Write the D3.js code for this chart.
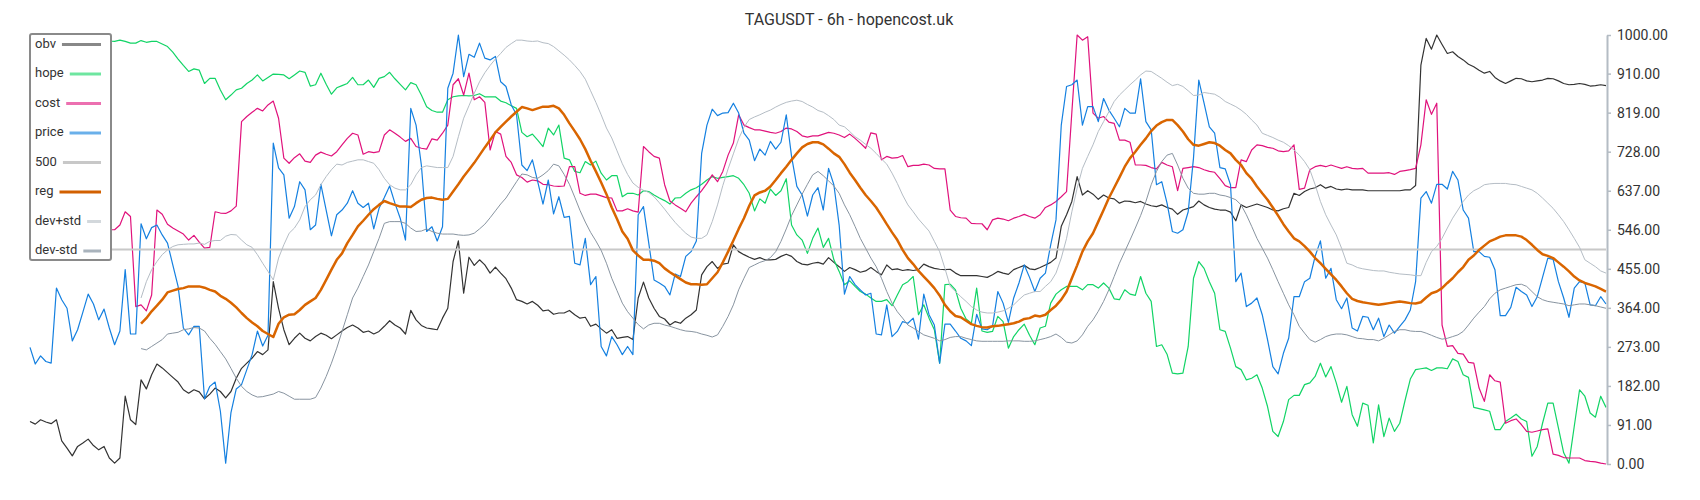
<!DOCTYPE html>
<html><head><meta charset="utf-8">
<script src="https://cdn.jsdelivr.net/npm/d3@7/dist/d3.min.js"></script>
<style>
body{margin:0;background:#fff;}
svg{display:block;font-family:Roboto,"Noto Sans",sans-serif;}
</style></head><body>
<svg id="chart" width="1700" height="500"></svg>
<script>
const title = "TAGUSDT - 6h - hopencost.uk";
const yTicks = [0,91,182,273,364,455,546,637,728,819,910,1000];
const level500 = 500;

const price = [272,233,252,239,235,410,383,363,287,313,354,396,373,336,361,317,278,310,453,303,303,560,525,551,557,534,515,464,414,317,
301,321,321,152,181,191,123,2,120,175,185,220,255,310,275,300,748,690,674,573,600,658,639,546,557,652,592,532,581,592,
608,637,608,598,608,548,596,621,648,608,573,522,829,790,697,542,553,520,553,876,911,1000,903,955,948,981,946,942,950,891,
880,837,814,697,684,709,658,606,662,583,623,575,577,468,464,526,418,437,274,252,297,278,255,274,255,581,600,515,429,422,
414,394,443,437,484,495,520,724,790,827,812,818,819,841,818,771,755,707,734,720,752,734,750,814,717,647,627,578,627,644,
592,689,651,557,396,437,418,406,394,398,303,301,371,297,309,332,328,340,291,396,348,324,235,326,326,310,293,287,276,349,
315,313,321,402,375,330,387,422,464,435,402,433,445,511,569,790,880,884,895,790,833,833,798,852,825,806,786,829,818,818,
898,798,779,651,658,608,542,538,546,588,713,895,841,786,771,691,688,651,425,445,367,375,387,348,290,227,210,258,293,390,
390,425,433,484,520,433,456,383,362,387,317,310,344,342,313,340,297,324,305,321,336,359,425,620,635,608,652,652,641,682,
662,592,573,495,495,484,482,453,346,346,365,412,402,394,367,390,435,480,477,425,387,342,410,425,422,371,369,390,373];

const obv = [99,93,103,98,94,103,54,37,19,41,49,58,43,33,41,14,2,14,158,103,92,196,175,208,233,224,213,202,191,173,
165,173,168,152,163,177,169,154,169,200,223,235,247,262,255,266,425,363,313,278,293,305,293,287,297,305,300,292,301,310,
318,324,317,307,310,303,309,321,334,324,317,303,358,336,323,317,315,313,340,363,472,520,398,482,463,476,464,445,459,445,
432,410,383,379,373,379,370,357,359,349,352,352,358,348,340,342,321,326,315,305,313,293,295,297,290,387,424,387,363,344,
338,324,332,328,340,348,359,441,460,472,456,466,468,511,495,488,482,477,481,476,476,477,484,489,484,472,466,464,468,470,
466,481,470,460,449,458,453,447,450,458,449,441,464,453,455,451,453,451,453,466,460,456,454,453,454,445,439,439,439,439,
437,435,441,449,445,442,453,458,463,455,453,458,464,470,480,554,581,612,670,627,637,629,617,627,620,618,608,613,612,609,
612,606,602,600,604,598,594,582,592,596,600,613,604,598,594,592,592,587,567,604,598,602,606,602,598,592,590,595,598,631,
626,635,641,644,651,643,647,641,639,641,639,639,639,637,637,637,637,637,637,637,639,639,649,930,992,967,1000,978,957,961,
950,942,932,926,918,911,915,901,893,887,893,899,898,893,891,893,895,899,898,893,887,884,885,887,885,881,882,884,882];

const hope = [962,968,975,970,978,982,980,986,990,993,996,1000,995,990,988,986,985,988,985,981,981,987,983,985,985,979,973,960,944,929,
915,921,918,887,899,899,872,849,860,872,876,887,895,907,893,901,909,908,907,898,907,916,913,881,884,911,885,862,877,882,
887,901,884,884,895,878,899,903,913,898,885,872,889,884,860,833,824,820,820,849,856,858,859,858,859,863,856,856,856,846,
842,835,829,773,763,769,755,740,783,767,790,713,709,682,679,705,697,706,678,662,672,672,623,631,631,627,637,635,627,620,
614,606,620,621,631,639,644,652,662,670,666,668,670,672,666,651,631,590,618,608,641,626,637,665,557,534,522,491,526,550,
505,526,476,449,418,427,414,402,396,387,379,379,383,369,394,418,425,437,348,371,340,313,235,418,419,406,363,338,328,410,
310,307,309,344,332,270,297,313,326,300,278,317,321,375,396,406,414,414,414,406,418,418,410,422,410,385,383,406,396,393,
437,398,379,274,278,256,212,210,212,274,433,472,456,425,398,313,309,270,227,220,196,200,208,177,134,76,64,99,150,160,
160,185,189,204,235,203,227,189,144,181,115,88,142,137,49,138,64,107,76,95,148,198,220,222,224,218,224,224,222,245,
239,208,202,132,129,126,123,80,80,99,107,116,105,99,18,41,95,142,142,84,26,2,88,173,158,119,109,158,132];

const cost = [560,566,572,578,583,580,574,569,565,561,556,553,550,548,547,546,546,557,588,577,367,371,357,394,592,582,559,550,543,536,
522,533,517,503,505,588,585,584,590,601,798,810,820,829,823,837,846,806,713,701,714,723,706,703,720,727,722,718,728,744,
759,771,767,722,728,726,728,767,779,771,762,752,759,740,736,734,758,755,771,790,884,898,860,911,849,856,843,732,775,769,
717,703,674,668,657,662,660,652,651,648,647,648,693,693,631,626,629,629,625,621,620,590,590,595,590,587,740,728,717,713,
651,613,604,596,588,608,623,637,654,674,658,682,720,748,814,790,784,779,779,776,773,771,775,783,781,775,765,762,765,765,
769,773,771,767,761,769,759,748,736,772,769,709,717,713,714,719,693,696,696,699,697,689,688,688,592,577,574,573,561,560,
560,546,569,573,571,567,573,577,582,577,573,581,598,604,612,623,635,820,1000,988,996,818,806,810,797,794,755,755,750,697,
697,696,691,688,703,697,693,637,689,691,693,691,686,682,680,665,649,644,644,709,705,732,744,742,738,736,730,728,730,744,
640,643,686,693,696,693,697,693,689,693,689,688,689,678,678,678,678,679,675,682,684,686,689,744,849,815,841,324,274,276,
258,256,237,235,177,146,208,194,191,95,101,105,92,76,74,77,80,82,23,20,15,14,14,14,8,6,5,2,0];

const reg = [null,null,null,null,null,null,null,null,null,null,null,null,null,null,null,null,null,null,null,null,null,327,340,356,369,383,400,404,408,410,
414,414,414,411,406,402,392,385,376,365,352,340,330,321,310,303,296,327,342,348,349,359,371,379,387,406,429,453,476,491,
515,534,554,567,581,594,604,613,608,604,600,600,599,608,616,620,621,618,616,618,635,652,670,686,702,720,738,755,773,786,
798,810,821,832,829,825,829,833,833,835,829,814,794,776,757,734,707,682,656,629,598,571,542,525,498,486,476,476,474,468,
456,447,439,431,423,419,419,418,419,433,447,470,495,521,548,573,602,626,633,637,647,662,678,693,709,724,738,746,750,750,
745,735,724,716,699,679,662,644,627,613,598,579,559,540,522,499,480,466,450,437,424,410,393,371,356,345,342,334,326,322,
319,318,321,322,324,326,328,332,338,340,346,344,348,359,369,383,402,433,463,495,519,538,565,592,620,644,668,693,713,728,
744,759,776,789,797,802,802,790,775,757,744,742,746,750,748,742,732,724,709,697,678,665,647,631,616,598,579,559,542,526,
519,508,495,480,468,455,442,429,414,398,385,380,377,375,373,371,373,375,377,379,377,375,374,377,388,398,402,410,422,433,
447,459,476,486,499,509,519,524,530,533,533,533,530,522,511,499,489,485,480,470,460,449,437,428,422,418,414,408,402];

const devPlus = [null,null,null,null,null,null,null,null,null,null,null,null,null,null,null,null,null,null,null,null,null,387,425,453,472,488,499,507,511,512,
513,513,515,512,519,521,521,531,535,534,522,511,505,488,468,449,429,480,511,538,550,569,600,616,627,651,670,686,699,697,
703,706,709,709,705,701,686,666,651,643,639,639,651,674,691,695,693,691,691,691,717,763,806,835,864,891,912,929,944,957,
971,980,988,988,986,985,986,982,980,973,963,953,942,929,915,897,870,843,814,783,760,730,700,675,655,645,638,633,623,609,
594,578,563,550,538,529,526,526,534,565,604,649,688,723,758,785,803,809,814,820,825,832,838,843,846,848,845,838,832,824,
820,812,803,790,786,775,763,755,745,736,724,711,699,678,654,627,604,588,571,557,543,519,495,456,414,402,390,379,367,359,
354,352,352,354,357,363,371,383,394,398,402,402,414,425,445,480,526,588,643,689,717,744,775,798,821,845,860,872,884,895,
907,916,915,907,899,890,882,885,880,870,859,860,866,864,862,855,845,839,833,825,815,802,790,771,766,761,755,750,742,732,
720,705,686,651,612,581,557,534,503,468,464,458,455,453,451,450,450,447,445,443,442,441,439,439,470,495,507,526,550,573,
592,612,627,637,643,651,653,654,654,654,652,651,647,643,639,631,620,608,596,581,565,546,526,505,476,468,460,450,445];

const devMinus = [null,null,null,null,null,null,null,null,null,null,null,null,null,null,null,null,null,null,null,null,null,269,266,274,282,290,303,305,307,313,
315,318,317,310,293,279,262,245,223,200,181,169,161,156,157,160,163,169,165,158,151,151,151,151,155,177,204,235,270,309,
348,387,410,437,464,495,526,561,565,565,565,561,550,542,543,548,542,538,536,536,536,534,533,534,538,548,559,574,590,606,
620,639,658,676,674,668,666,674,684,699,695,675,652,622,591,564,540,520,498,468,433,404,375,355,340,325,315,324,328,328,
324,321,317,313,310,309,307,303,300,296,301,321,344,371,406,433,458,464,470,474,481,495,519,548,579,604,629,652,674,682,
672,660,648,631,604,581,554,526,503,480,460,433,402,375,355,340,324,317,309,301,297,293,287,290,295,297,297,293,290,287,
286,286,286,286,286,287,287,287,286,286,287,290,293,297,303,295,284,282,287,301,321,336,356,379,406,437,468,495,522,550,
579,612,651,682,705,720,724,697,666,643,631,629,629,631,631,627,625,621,616,604,581,554,526,503,480,453,425,398,371,348,
321,305,290,284,290,297,301,303,303,301,297,293,292,290,290,287,293,301,309,313,313,310,309,309,305,300,295,291,293,297,
301,309,324,340,354,367,385,398,406,410,414,418,419,414,402,390,383,379,377,375,373,369,371,373,373,371,369,366,363];

const seriesNames = ["obv","hope","cost","price","500","reg","dev+std","dev-std"];
const lineColors  = ["#333333","#12d466","#e0127c","#1580e0","#c8c8c8","#d96500","#b5bdc5","#8894a0"];
const swatchColors= ["#888888","#6ee6a0","#ec70b0","#6ab0ea","#c8c8c8","#d26000","#d3d8dc","#a9b3bc"];
const lineWidths  = [1.2,1.2,1.2,1.2,2,2.5,1,1];

const n = price.length;
const svg = d3.select("#chart");
const x = d3.scaleLinear().domain([0, n-1]).range([30, 1606]);
const y = d3.scaleLinear().domain([0, 1000]).range([464, 35]);

const dataSets = [obv, hope, cost, price, null, reg, devPlus, devMinus];
const lineGen = d3.line().defined(d => d != null).x((d,i) => x(i)).y(d => y(d));

dataSets.forEach((data, k) => {
  if (k === 4) {
    svg.append("line")
      .attr("x1", x(0)).attr("x2", x(n-1))
      .attr("y1", y(level500)).attr("y2", y(level500))
      .attr("stroke", lineColors[k]).attr("stroke-width", lineWidths[k]);
    return;
  }
  svg.append("path").datum(data)
    .attr("fill","none")
    .attr("stroke", lineColors[k])
    .attr("stroke-width", lineWidths[k])
    .attr("stroke-linejoin","round")
    .attr("d", lineGen);
});

// axis
const ax = d3.axisRight(y).tickValues(yTicks).tickFormat(d => d.toFixed(2)).tickSize(4).tickSizeOuter(0).tickPadding(6);
const gAx = svg.append("g").attr("transform","translate(1607,0)").call(ax);
gAx.select(".domain").attr("stroke","#b4bcc4").attr("stroke-width",2);
gAx.selectAll(".tick line").attr("stroke","#b4bcc4").attr("stroke-width",1.5);
gAx.selectAll(".tick text").attr("fill","#333").style("font-size","14px").style("font-family","Roboto");

// title
svg.append("text").attr("x",849).attr("y",21).attr("text-anchor","middle")
  .attr("dominant-baseline","middle").attr("fill","#333")
  .style("font-size","16px").text(title);

// legend
const lg = svg.append("g");
lg.append("rect").attr("x",30).attr("y",34).attr("width",81).attr("height",226)
  .attr("fill","#fff").attr("stroke","#8a8a8a").attr("stroke-width",2).attr("rx",2);
seriesNames.forEach((name, k) => {
  const yy = 44.5 + k*29.5;
  const t = lg.append("text").attr("x",35).attr("y",yy).attr("dominant-baseline","middle")
    .attr("fill","#333").style("font-size","13px").text(name);
  const w = t.node().getComputedTextLength();
  lg.append("line").attr("x1",35+w+6).attr("x2",101).attr("y1",yy).attr("y2",yy)
    .attr("stroke",swatchColors[k]).attr("stroke-width",3);
});
</script>
</body></html>
